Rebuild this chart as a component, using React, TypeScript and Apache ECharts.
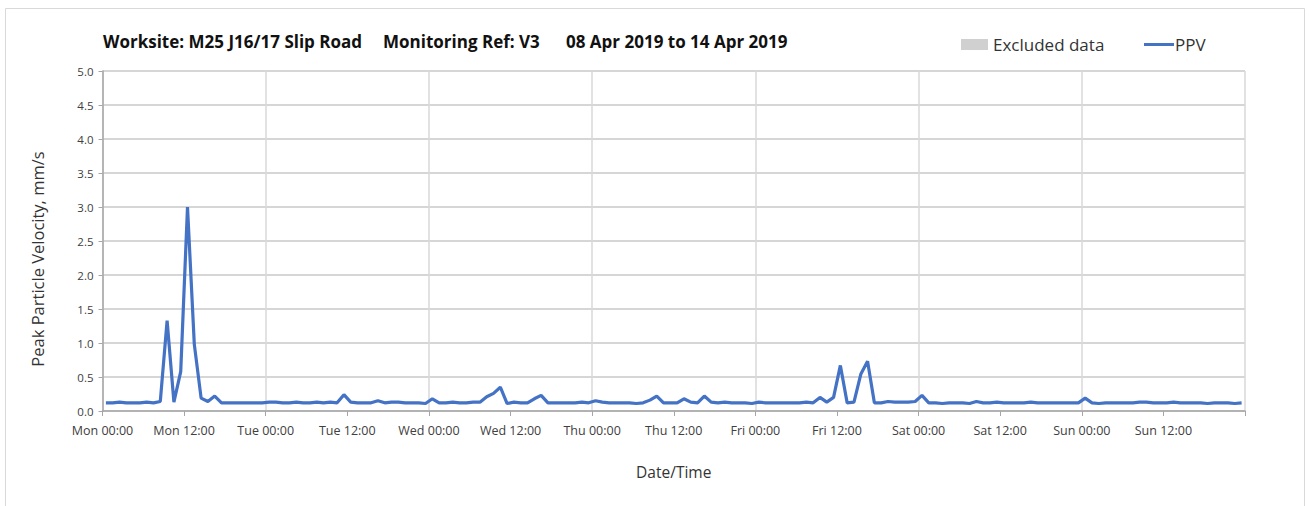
import React, { useEffect, useRef } from "react";
import * as echarts from "echarts";

// Hourly PPV readings (mm/s), one point per hour at hh:30, Mon 08 Apr to Sun 14 Apr 2019
const monValues = [0.12, 0.12, 0.13, 0.12, 0.12, 0.12, 0.13, 0.12, 0.14, 1.33, 0.13, 0.58, 3.0, 0.98, 0.19, 0.14, 0.22, 0.12, 0.12, 0.12, 0.12, 0.12, 0.12, 0.12];
const tueValues = [0.13, 0.13, 0.12, 0.12, 0.13, 0.12, 0.12, 0.13, 0.12, 0.13, 0.12, 0.24, 0.13, 0.12, 0.12, 0.12, 0.15, 0.12, 0.13, 0.13, 0.12, 0.12, 0.12, 0.11];
const wedValues = [0.18, 0.12, 0.12, 0.13, 0.12, 0.12, 0.13, 0.13, 0.21, 0.26, 0.35, 0.11, 0.13, 0.12, 0.12, 0.18, 0.23, 0.12, 0.12, 0.12, 0.12, 0.12, 0.13, 0.12];
const thuValues = [0.15, 0.13, 0.12, 0.12, 0.12, 0.12, 0.11, 0.12, 0.16, 0.22, 0.12, 0.12, 0.12, 0.18, 0.13, 0.12, 0.22, 0.13, 0.12, 0.13, 0.12, 0.12, 0.12, 0.11];
const friValues = [0.13, 0.12, 0.12, 0.12, 0.12, 0.12, 0.12, 0.13, 0.12, 0.2, 0.13, 0.2, 0.67, 0.12, 0.13, 0.54, 0.73, 0.12, 0.12, 0.14, 0.13, 0.13, 0.13, 0.14];
const satValues = [0.23, 0.12, 0.12, 0.11, 0.12, 0.12, 0.12, 0.11, 0.14, 0.12, 0.12, 0.13, 0.12, 0.12, 0.12, 0.12, 0.13, 0.12, 0.12, 0.12, 0.12, 0.12, 0.12, 0.12];
const sunValues = [0.19, 0.12, 0.11, 0.12, 0.12, 0.12, 0.12, 0.12, 0.13, 0.13, 0.12, 0.12, 0.12, 0.13, 0.12, 0.12, 0.12, 0.12, 0.11, 0.12, 0.12, 0.12, 0.11, 0.12];

const dayNames = ["Mon", "Tue", "Wed", "Thu", "Fri", "Sat", "Sun"];
const yTicks = ["0.0", "0.5", "1.0", "1.5", "2.0", "2.5", "3.0", "3.5", "4.0", "4.5", "5.0"];
const titleParts = ["Worksite: M25 J16/17 Slip Road", "Monitoring Ref: V3", "08 Apr 2019 to 14 Apr 2019"];
const seriesNames = ["Excluded data", "PPV"];
const xAxisName = "Date/Time";
const yAxisName = "Peak Particle Velocity, mm/s";

const allDays = [monValues, tueValues, wedValues, thuValues, friValues, satValues, sunValues];

export default function App() {
  const ref = useRef<HTMLDivElement>(null);
  useEffect(() => {
    if (!ref.current) return;
    const chart = echarts.init(ref.current, undefined, { renderer: "svg" });
    const ppv: number[][] = [];
    allDays.forEach((day, d) => {
      day.forEach((v, h) => ppv.push([d * 24 + h + 0.5, v]));
    });
    const font = "Open Sans";
    const titleStyle = (t: string) => ({ text: t, font: `bold 17px ${font}`, fill: "#111" });
    chart.setOption({
      animation: false,
      backgroundColor: "#ffffff",
      graphic: [
        {
          type: "rect",
          shape: { x: 5.5, y: 8.5, width: 1299, height: 520 },
          style: { fill: "none", stroke: "#d9d9d9", lineWidth: 1 },
          silent: true,
        },
        { type: "text", left: 103, top: 33, style: titleStyle(titleParts[0]) },
        { type: "text", left: 383, top: 33, style: titleStyle(titleParts[1]) },
        { type: "text", left: 566, top: 33, style: titleStyle(titleParts[2]) },
        {
          type: "text",
          x: 37,
          y: 259,
          rotation: Math.PI / 2,
          style: {
            text: yAxisName,
            font: `16.5px ${font}`,
            fill: "#333",
            align: "center",
            verticalAlign: "middle",
          },
        },
      ],
      legend: [
        {
          data: [{ name: seriesNames[0], icon: "rect" }],
          left: 961,
          top: 36,
          padding: 0,
          itemWidth: 27,
          itemHeight: 11,
          itemGap: 5,
          textStyle: { fontFamily: font, fontSize: 17, color: "#333", padding: [0, 0, 0, 0] },
          selectedMode: false,
        },
        {
          data: [{ name: seriesNames[1], icon: "rect" }],
          left: 1144,
          top: 36,
          padding: 0,
          itemWidth: 30,
          itemHeight: 3,
          itemGap: 5,
          textStyle: { fontFamily: font, fontSize: 17, color: "#333", padding: [0, 0, 0, -4] },
          selectedMode: false,
        },
      ],
      grid: { left: 102.5, right: 64, top: 71, bottom: 95, containLabel: false },
      xAxis: [
        {
          type: "value",
          min: 0,
          max: 168,
          interval: 12,
          name: xAxisName,
          nameLocation: "middle",
          nameGap: 53,
          nameTextStyle: { fontFamily: font, fontSize: 15.5, color: "#333" },
          axisLine: { show: true, lineStyle: { color: "#a6a6a6", width: 1.5 } },
          axisTick: { show: true, length: 5, lineStyle: { color: "#a6a6a6" } },
          splitLine: { show: false },
          axisLabel: {
            fontFamily: font,
            fontSize: 12.5,
            color: "#404040",
            margin: 13,
            formatter: (v: number) => {
              if (v >= 168) return "";
              const d = Math.floor(v / 24);
              return dayNames[d] + (v % 24 === 0 ? " 00:00" : " 12:00");
            },
          },
        },
        {
          type: "value",
          min: 0,
          max: 168,
          interval: 24,
          position: "bottom",
          axisLine: { show: false },
          axisTick: { show: false },
          axisLabel: { show: false },
          splitLine: { show: true, lineStyle: { color: "#d9d9d9", width: 1.5 } },
        },
      ],
      yAxis: {
        type: "value",
        min: 0,
        max: 5,
        interval: 0.5,
        axisLine: { show: true, lineStyle: { color: "#a6a6a6", width: 1.5 } },
        axisTick: { show: true, length: 4, lineStyle: { color: "#a6a6a6" } },
        splitLine: { show: true, lineStyle: { color: "#c8c8c8", width: 1.5 } },
        axisLabel: {
          fontFamily: font,
          fontSize: 11.5,
          color: "#404040",
          margin: 9,
          formatter: (v: number) => yTicks[Math.round(v * 2)],
        },
      },
      series: [
        {
          name: seriesNames[0],
          type: "bar",
          data: [],
          itemStyle: { color: "#d0d0d0" },
        },
        {
          name: seriesNames[1],
          type: "line",
          data: ppv,
          showSymbol: false,
          symbol: "none",
          lineStyle: { color: "#4472c4", width: 3.2 },
          itemStyle: { color: "#4472c4" },
        },
      ],
    });
    return () => chart.dispose();
  }, []);
  return <div ref={ref} style={{ position: "absolute", left: 0, top: 0, width: 1309, height: 506 }} />;
}
